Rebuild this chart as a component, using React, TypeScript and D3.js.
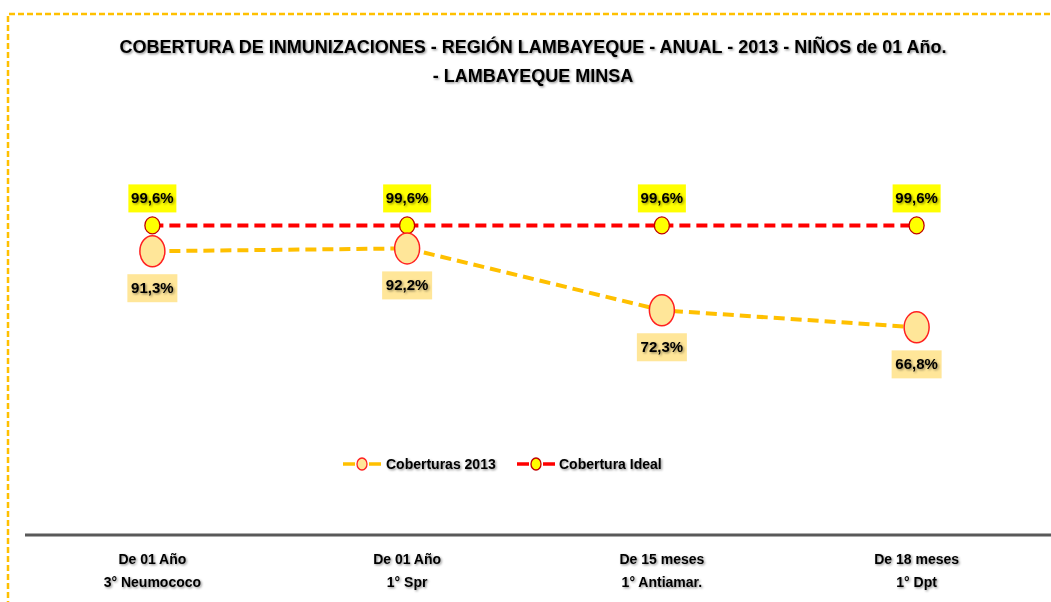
import React from "react";
import * as d3 from "d3";

const categoriesLine1 = ["De 01 Año", "De 01 Año", "De 15 meses", "De 18 meses"];
const categoriesLine2 = ["3° Neumococo", "1° Spr", "1° Antiamar.", "1° Dpt"];
const coberturas2013 = [91.3, 92.2, 72.3, 66.8];
const coberturaIdeal = [99.6, 99.6, 99.6, 99.6];
const seriesNames = ["Coberturas 2013", "Cobertura Ideal"];
const titleLines = [
  "COBERTURA DE INMUNIZACIONES - REGIÓN LAMBAYEQUE - ANUAL - 2013 - NIÑOS de 01 Año.",
  "- LAMBAYEQUE MINSA",
];

const W = 1051;
const H = 602;
const FONT = "'Liberation Sans Narrow', 'Arial Narrow', 'Liberation Sans', sans-serif";

const fmt = (v: number) => v.toFixed(1).replace(".", ",") + "%";

export default function App() {
  const idx = categoriesLine1.map((_, i) => String(i));
  const x = d3.scaleBand<string>().domain(idx).range([25, 1044]);
  const y = d3.scaleLinear().domain([0, 120]).range([535, 162]);
  const cx = (i: number) => (x(String(i)) as number) + x.bandwidth() / 2;

  const line = d3
    .line<number>()
    .x((_, i) => cx(i))
    .y((d) => y(d));

  return (
    <svg
      width={W}
      height={H}
      style={{ position: "absolute", left: 0, top: 0, background: "#fff" }}
    >
      <defs>
        <filter id="sh" x="-10%" y="-30%" width="120%" height="160%">
          <feDropShadow dx="1.2" dy="1.2" stdDeviation="0.9" floodColor="#000" floodOpacity="0.45" />
        </filter>
      </defs>
      <rect x={0} y={0} width={W} height={H} fill="#fff" />
      {/* dashed border */}
      <path
        d={`M8,${H + 5} L8,14 L${W + 5},14`}
        fill="none"
        stroke="#FFC000"
        strokeWidth={2.5}
        strokeDasharray="6 3"
      />
      {/* title */}
      {titleLines.map((t, i) => (
        <text
          key={i}
          x={533}
          y={53 + i * 29}
          textAnchor="middle"
          fontFamily={FONT}
          fontWeight="bold"
          fontSize={18}
          fill="#000"
          filter="url(#sh)"
        >
          {t}
        </text>
      ))}

      {/* axis line */}
      <line x1={25} x2={W} y1={535} y2={535} stroke="#595959" strokeWidth={3} />
      {categoriesLine1.map((c, i) => (
        <g key={i} fontFamily={FONT} fontWeight="bold" fontSize={14} textAnchor="middle" filter="url(#sh)">
          <text x={cx(i)} y={564}>{c}</text>
          <text x={cx(i)} y={587}>{categoriesLine2[i]}</text>
        </g>
      ))}

      {/* lines */}
      <path d={line(coberturaIdeal) || ""} fill="none" stroke="#FF0000" strokeWidth={4} strokeDasharray="11 6" />
      <path d={line(coberturas2013) || ""} fill="none" stroke="#FFC000" strokeWidth={4} strokeDasharray="11 6" />

      {/* markers ideal */}
      {coberturaIdeal.map((v, i) => (
        <ellipse key={i} cx={cx(i)} cy={y(v)} rx={7.5} ry={8.5} fill="#FFFF00" stroke="#C00000" strokeWidth={1.3} />
      ))}
      {coberturas2013.map((v, i) => (
        <ellipse key={i} cx={cx(i)} cy={y(v)} rx={12.5} ry={15.5} fill="#FFE699" stroke="#FF2020" strokeWidth={1.5} />
      ))}

      {/* labels ideal */}
      {coberturaIdeal.map((v, i) => (
        <g key={i}>
          <rect x={cx(i) - 24} y={y(v) - 41} width={48} height={28} fill="#FFFF00" />
          <text
            x={cx(i)}
            y={y(v) - 22}
            textAnchor="middle"
            fontFamily={FONT}
            fontWeight="bold"
            fontSize={15}
            filter="url(#sh)"
          >
            {fmt(v)}
          </text>
        </g>
      ))}
      {coberturas2013.map((v, i) => (
        <g key={i}>
          <rect x={cx(i) - 25} y={y(v) + 23} width={50} height={28} fill="#FFE699" />
          <text
            x={cx(i)}
            y={y(v) + 42}
            textAnchor="middle"
            fontFamily={FONT}
            fontWeight="bold"
            fontSize={15}
            filter="url(#sh)"
          >
            {fmt(v)}
          </text>
        </g>
      ))}

      {/* legend */}
      <g>
        <line x1={343} x2={381} y1={464} y2={464} stroke="#FFC000" strokeWidth={3.5} strokeDasharray="12 14" />
        <ellipse cx={362} cy={464} rx={5} ry={6} fill="#FFE699" stroke="#FF2020" strokeWidth={1.3} />
        <text x={386} y={469} fontFamily={FONT} fontWeight="bold" fontSize={14} filter="url(#sh)">
          {seriesNames[0]}
        </text>
        <line x1={517} x2={555} y1={464} y2={464} stroke="#FF0000" strokeWidth={3.5} strokeDasharray="12 14" />
        <ellipse cx={536} cy={464} rx={5} ry={6} fill="#FFFF00" stroke="#C00000" strokeWidth={1.3} />
        <text x={559} y={469} fontFamily={FONT} fontWeight="bold" fontSize={14} filter="url(#sh)">
          {seriesNames[1]}
        </text>
      </g>
    </svg>
  );
}
